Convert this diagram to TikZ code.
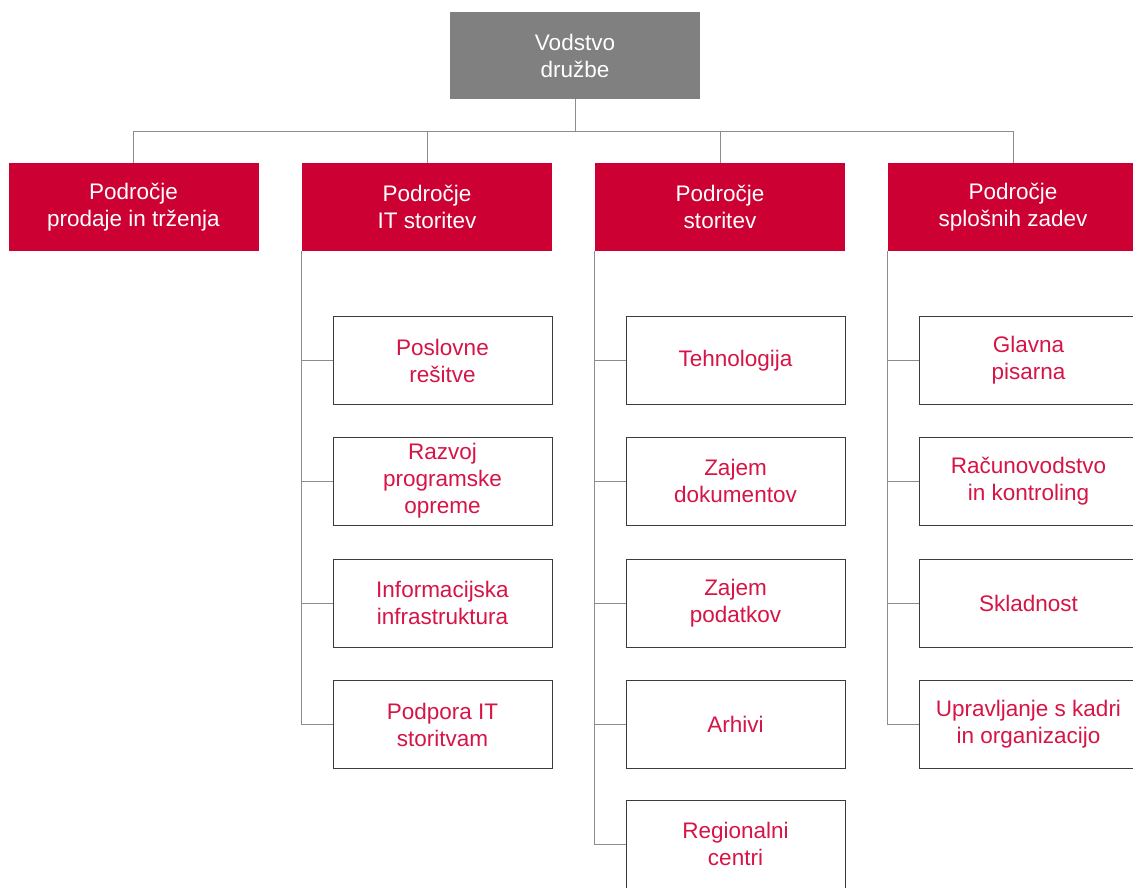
\documentclass[tikz,border=0pt]{standalone}
\usepackage{fontspec}
\setmainfont{Liberation Sans}
\definecolor{topgray}{RGB}{128,128,128}
\definecolor{dred}{RGB}{204,0,51}
\definecolor{tred}{RGB}{214,20,70}
\definecolor{linegray}{RGB}{140,140,140}
\definecolor{boxline}{RGB}{60,60,60}
\begin{document}
\begin{tikzpicture}[x=1pt,y=-1pt,
  every node/.style={font=\fontsize{22.5}{27}\selectfont, align=center, inner sep=0pt},
  topbox/.style={fill=topgray, text=white, minimum width=250pt, minimum height=87pt},
  areabox/.style={fill=dred, text=white, minimum width=250pt, minimum height=88pt},
  unitbox/.style={draw=boxline, line width=0.9pt, fill=white, text=tred, minimum width=219pt, minimum height=88pt},
  conn/.style={draw=linegray, line width=0.9pt}]
\useasboundingbox (0,0) rectangle (1133,887);
\node[topbox] (top) at (575,55.5) {Vodstvo\\družbe};
\node[areabox] (r1) at (133.5,207) {Področje\\prodaje in trženja};
\node[areabox] (r2) at (427,207) {Področje\\IT storitev};
\node[areabox] (r3) at (720,207) {Področje\\storitev};
\node[areabox] (r4) at (1013,207) {Področje\\splošnih zadev};
\coordinate (bus) at (575,131);
\draw[conn] (top.south) -- (bus) -| (r1.north);
\draw[conn] (bus) -| (r2.north);
\draw[conn] (bus) -| (r3.north);
\draw[conn] (bus) -| (r4.north);
% column 2
\node[unitbox] (a1) at (442.5,360.5) {Poslovne\\rešitve};
\node[unitbox] (a2) at (442.5,481) {Razvoj\\programske\\opreme};
\node[unitbox] (a3) at (442.5,603) {Informacijska\\infrastruktura};
\node[unitbox] (a4) at (442.5,724.5) {Podpora IT\\storitvam};
% column 3
\node[unitbox] (b1) at (735.5,360.5) {Tehnologija};
\node[unitbox] (b2) at (735.5,481) {Zajem\\dokumentov};
\node[unitbox] (b3) at (735.5,603) {Zajem\\podatkov};
\node[unitbox] (b4) at (735.5,724.5) {Arhivi};
\node[unitbox] (b5) at (735.5,844) {Regionalni\\centri};
% column 4
\node[unitbox] (c1) at (1028.5,360.5) {Glavna\\pisarna};
\node[unitbox] (c2) at (1028.5,481) {Računovodstvo\\in kontroling};
\node[unitbox] (c3) at (1028.5,603) {Skladnost};
\node[unitbox] (c4) at (1028.5,724.5) {Upravljanje s kadri\\in organizacijo};
% connectors
\foreach \n in {a1,a2,a3,a4} \draw[conn] (r2.south west) |- (\n.west);
\foreach \n in {b1,b2,b3,b4,b5} \draw[conn] (r3.south west) |- (\n.west);
\foreach \n in {c1,c2,c3,c4} \draw[conn] (r4.south west) |- (\n.west);
\end{tikzpicture}
\end{document}
